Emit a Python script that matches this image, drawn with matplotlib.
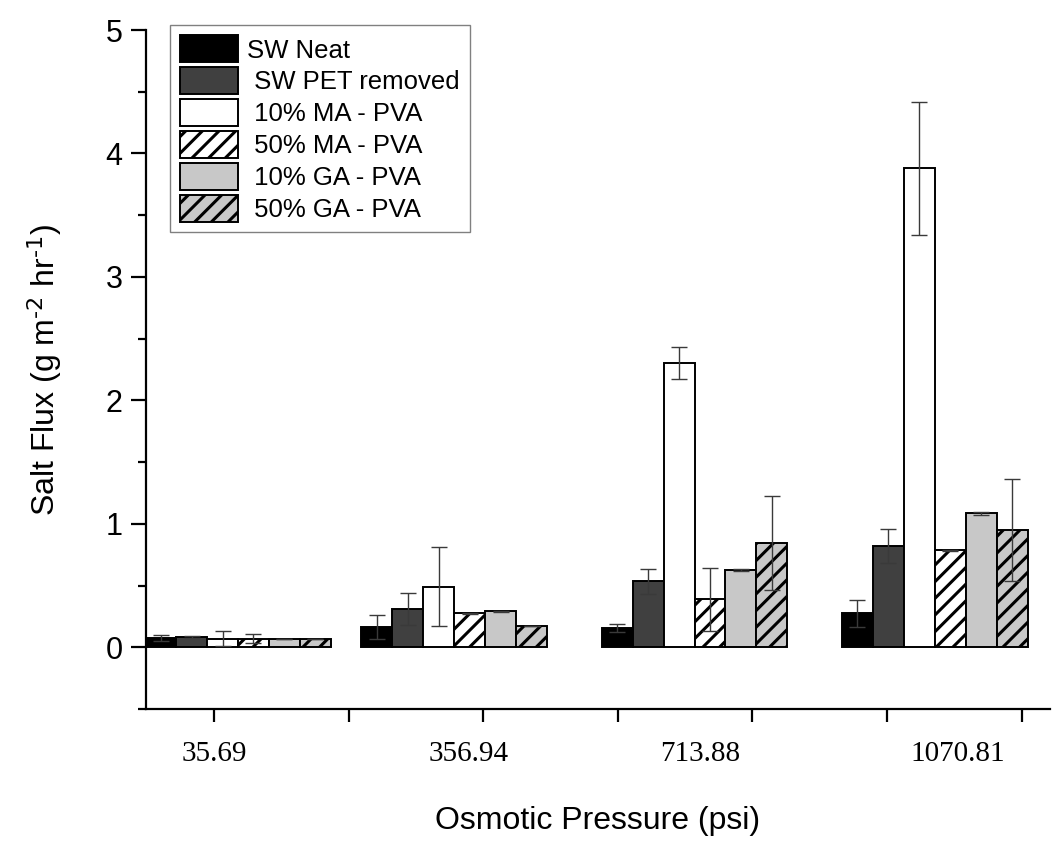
import numpy as np
import matplotlib
matplotlib.use("Agg")
import matplotlib.pyplot as plt

plt.rcParams['font.family'] = ['Liberation Sans', 'DejaVu Sans']
plt.rcParams['mathtext.default'] = 'regular'
plt.rcParams['hatch.linewidth'] = 2.2

# ---- data ----
pressures = [35.69, 356.94, 713.88, 1070.81]
pressure_labels = ["35.69", "356.94", "713.88", "1070.81"]
series_names = ["SW Neat", " SW PET removed", " 10% MA - PVA", " 50% MA - PVA",
                " 10% GA - PVA", " 50% GA - PVA"]
sw_neat = [0.075, 0.165, 0.155, 0.275]
sw_neat_err = [0.025, 0.10, 0.03, 0.11]
sw_pet = [0.085, 0.31, 0.535, 0.82]
sw_pet_err = [0.01, 0.13, 0.10, 0.135]
ma10 = [0.07, 0.49, 2.30, 3.88]
ma10_err = [0.06, 0.32, 0.13, 0.54]
ma50 = [0.07, 0.275, 0.39, 0.785]
ma50_err = [0.035, 0.005, 0.255, 0.005]
ga10 = [0.07, 0.29, 0.625, 1.085]
ga10_err = [0.0, 0.005, 0.008, 0.01]
ga50 = [0.07, 0.17, 0.845, 0.95]
ga50_err = [0.0, 0.0, 0.38, 0.41]

values = [sw_neat, sw_pet, ma10, ma50, ga10, ga50]
errors = [sw_neat_err, sw_pet_err, ma10_err, ma50_err, ga10_err, ga50_err]

# ---- styles ----
facecolors = ["#000000", "#404040", "#ffffff", "#ffffff", "#c8c8c8", "#c8c8c8"]
hatches = [None, None, None, "//", None, "//"]
bar_w = 46.0
label_pos = [0, 378, 723, 1105]

fig = plt.figure(figsize=(10.52, 8.48), dpi=100)
ax = fig.add_axes([146/1052, 1-709/848, (1050-146)/1052, (709-30)/848])

x = np.array(pressures)
for i, (vals, errs) in enumerate(zip(values, errors)):
    pos = x + (i - 2.5) * bar_w
    ax.bar(pos, vals, width=bar_w, color=facecolors[i], edgecolor="black",
           linewidth=1.4, hatch=hatches[i], label=series_names[i], zorder=2)
    ax.errorbar(pos, vals, yerr=errs, fmt="none", ecolor="#3a3a3a",
                elinewidth=1.0, capsize=5.5, capthick=1.0, zorder=3)

ax.set_xlim(-101, 1242)
ax.set_ylim(-0.5, 5)
for s in ["top", "right"]:
    ax.spines[s].set_visible(False)
for s in ["left", "bottom"]:
    ax.spines[s].set_linewidth(1.6)

ax.set_yticks([0, 1, 2, 3, 4, 5])
ax.set_yticks(np.arange(-0.5, 5.0, 1.0), minor=True)
ax.tick_params(axis="y", which="major", direction="out", length=11, width=1.6,
               labelsize=22, pad=6)
ax.tick_params(axis="y", which="minor", direction="out", length=6, width=1.6)

ax.xaxis.remove_overlapping_locs = False
ax.set_xticks(np.arange(0, 1201, 200))
ax.set_xticklabels([])
ax.tick_params(axis="x", which="major", direction="out", length=9.5, width=1.6)
ax.set_xticks(label_pos, pressure_labels, minor=True)
ax.tick_params(axis="x", which="minor", length=0, pad=23, labelsize=21,
               labelfontfamily="Liberation Serif")

ax.set_ylabel(r"Salt Flux (g m$^{\text{-2}}$ hr$^{\text{-1}}$)", fontsize=23,
              labelpad=30)
ax.set_xlabel("Osmotic Pressure (psi)", fontsize=23, labelpad=28)

leg = ax.legend(loc="upper left", bbox_to_anchor=(170/1052, 1-25/848),
                bbox_transform=fig.transFigure, borderaxespad=0,
                fontsize=18.5, handlelength=2.25, handleheight=1.25,
                labelspacing=0.18, handletextpad=0.35, borderpad=0.4,
                fancybox=False, framealpha=1, edgecolor="#808080")
leg.get_frame().set_linewidth(1.0)

fig.savefig("out.png", dpi=100, facecolor="white")
